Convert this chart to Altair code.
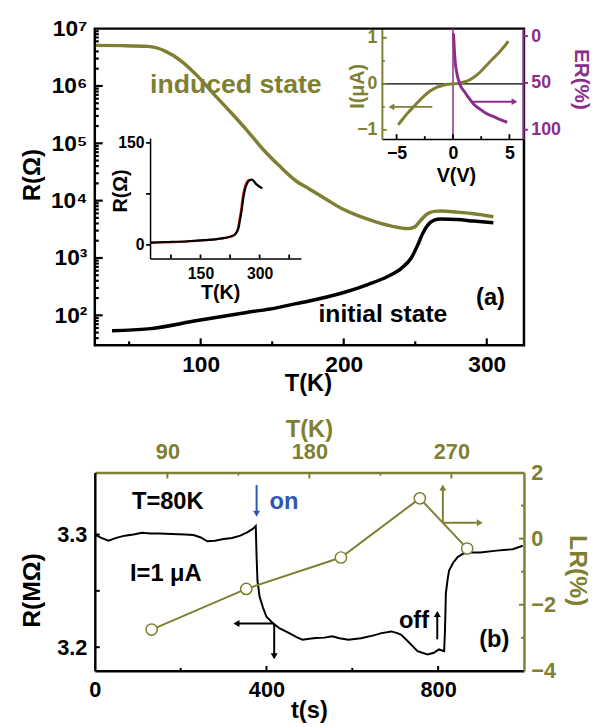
import math
import altair as alt
import pandas as pd

OLIVE = "#7f7f33"
PURPLE = "#8c2d8c"
BLUE = "#2f56b4"
RED = "#e3262b"
FONT = "Liberation Sans"
W, H = 435, 651

# ---------------- (a) main panel: R(T) ----------------
T_IND = [26.7, 45, 63.2, 74.8, 86.2, 97.7, 109.2, 120.7, 132.2, 143.7, 155.2, 166.7, 175.9,
         187.4, 198.9, 210.4, 221.9, 233.4, 244.8, 249.4, 254.0, 258.6, 263.2, 267.8, 279.3,
         290.8, 304.6]
R_IND = [5.1e6, 5.05e6, 4.9e6, 4.1e6, 2.75e6, 1.5e6, 7.2e5, 3.55e5, 1.7e5, 7.8e4, 4.0e4, 2.2e4,
         1.6e4, 1.07e4, 7.2e3, 5.4e3, 4.3e3, 3.6e3, 3.25e3, 3.45e3, 4.6e3, 5.9e3, 6.5e3, 6.6e3,
         6.3e3, 5.9e3, 5.25e3]
T_INI = [38, 63.2, 97.7, 132.2, 152.9, 166.7, 175.9, 198.9, 217.3, 231.1, 240.3, 247.2, 251.8,
         255.3, 258.6, 263.2, 267.8, 279.3, 290.8, 304.6]
R_INI = [54, 58, 81, 112, 135, 160, 178, 245, 347, 480, 660, 1000, 1700, 2700, 3700, 4570, 4800,
         4700, 4400, 4100]

# inset 1: linear R(T)
T_IN1_BLACK = [22, 60, 117, 160, 200, 234, 246, 250, 255, 259, 263, 268, 272, 280, 292, 307]
R_IN1_BLACK = [3.4, 4.2, 5.4, 7, 9.2, 14, 24, 36, 53, 70, 82, 90, 94, 96, 89, 83]
T_IN1_RED = [22, 60, 117, 160, 200, 232, 244, 248, 253, 257, 262, 268, 275]
R_IN1_RED = [3.0, 3.8, 5.0, 6.8, 9.0, 13, 22, 34, 52, 70, 84, 93, 96]

# inset 2: I-V and ER
V_IV = [-4.85, -4.5, -4, -3.5, -3, -2.5, -2, -1.5, -1, -0.5, 0, 0.5, 1, 1.5, 2, 2.5, 3, 3.5, 4, 4.5, 4.9]
I_IV = [-0.89, -0.78, -0.63, -0.5, -0.37, -0.25, -0.15, -0.08, -0.04, -0.01, 0, 0.01, 0.04, 0.09,
        0.17, 0.28, 0.41, 0.54, 0.66, 0.8, 0.93]
V_ER = [0.03, 0.06, 0.1, 0.14, 0.2, 0.29, 0.4, 0.57, 0.75, 1.0, 1.4, 1.86, 2.4, 3.0, 3.6, 4.14, 4.8]
ER = [-3, 1, 10, 19, 28, 36, 43, 50, 55, 59, 66, 73, 78, 83, 86, 89, 92]

# ---------------- (b) panel ----------------
T_S = [0, 15, 32, 50, 70, 90, 110, 130, 150, 180, 210, 230, 247, 262, 280, 300, 320, 339, 355,
       368, 375, 377, 379, 384, 392, 400, 415, 430, 453, 470, 484, 500, 515, 535, 553, 570, 591,
       620, 650, 668, 691, 705, 714, 730, 752, 775, 790, 802, 814, 816, 818, 822, 825.5, 835, 845,
       858, 868, 898, 936, 960, 974, 997]
R_MOHM = [3.300, 3.297, 3.2945, 3.297, 3.299, 3.300, 3.3015, 3.301, 3.301, 3.3005, 3.300, 3.2995,
          3.2974, 3.294, 3.2945, 3.296, 3.297, 3.299, 3.302, 3.305, 3.3075, 3.28, 3.259, 3.2447,
          3.235, 3.227, 3.2213, 3.217, 3.2125, 3.209, 3.2067, 3.2075, 3.2082, 3.2085, 3.2096,
          3.208, 3.2067, 3.208, 3.2105, 3.2125, 3.214, 3.2125, 3.211, 3.205, 3.1965, 3.1936,
          3.195, 3.198, 3.1965, 3.215, 3.2476, 3.26, 3.268, 3.275, 3.2798, 3.283, 3.284, 3.284,
          3.2857, 3.2865, 3.287, 3.290]
T_LR = [80, 140, 200, 250, 280]
LR = [-2.75, -1.52, -0.57, 1.22, -0.3]

# tick positions
YTICKS_A = [m * 10 ** e for e in range(1, 7) for m in range(1, 10) if m * 10 ** e >= 40]
XTICKS_A = [50, 100, 150, 200, 250, 300]
XTICKS_1 = [75, 150, 225, 300, 375]
YTICKS_1 = [0, 75, 150]
XTICKS_2 = [-5, -2.5, 0, 2.5, 5]
YTICKS_2 = [-1, -0.5, 0, 0.5, 1]
ERTICKS = [0, 50, 100]
TTICKS_B = [200, 400, 600, 800]
RTICKS_B = [3.2, 3.25, 3.3]
TKTICKS_B = [90, 135, 180, 225, 270]
LRTICKS_B = [-3, -2, -1, 0, 1]


class S:
    """scale definition: data domain -> pixel range (plot coordinates)"""

    def __init__(self, domain, rng, log=False):
        self.domain, self.rng, self.log = domain, rng, log

    def alt(self):
        kw = dict(domain=self.domain, range=self.rng, nice=False, zero=False)
        if self.log:
            kw["type"] = "log"
        return alt.Scale(**kw)

    def _f(self, v):
        return math.log10(v) if self.log else v

    def px(self, v):
        d0, d1 = self._f(self.domain[0]), self._f(self.domain[1])
        return self.rng[0] + (self._f(v) - d0) / (d1 - d0) * (self.rng[1] - self.rng[0])

    def val(self, p):
        d0, d1 = self._f(self.domain[0]), self._f(self.domain[1])
        x = d0 + (p - self.rng[0]) / (self.rng[1] - self.rng[0]) * (d1 - d0)
        return 10 ** x if self.log else x


S_TA = S([26, 326], [0, W])
S_RA = S([30, 1e7], [321, 0], log=True)
S_T1 = S([22, 405], [56, 209])
S_R1 = S([-20, 157], [233, 111])
S_V = S([-6.3, 6.2], [291, 434])
S_I = S([-1.2, 1.2], [112, 0])
S_ER = S([-8, 110], [0, 112])
S_t = S([0, 1000], [0, W])
S_RB = S([3.179, 3.355], [H, 450])
S_TB = S([44, 316], [0, W])
S_LR = S([-4, 2], [H, 450])


def lab_axis(orient, offset, values, size, pad, color="black", title=None, tsize=24, tx=0, ty=0,
             domain=False, dwidth=2.5, label_expr=None, zindex=0, fmt=None):
    kw = dict(orient=orient, offset=offset, values=values, labelFont=FONT, labelFontWeight="bold",
              labelFontSize=size, labelPadding=pad, labelColor=color, labelFlush=False,
              labelOverlap=False, grid=False, ticks=False, domain=domain, zindex=zindex)
    if domain:
        kw.update(domainColor=color, domainWidth=dwidth)
    if title:
        kw.update(title=title, titleFont=FONT, titleFontWeight="bold", titleFontSize=tsize,
                  titleColor=color, titleX=tx, titleY=ty, titleBaseline="middle", titleAlign="center")
    else:
        kw["title"] = None
    if label_expr:
        kw["labelExpr"] = label_expr
    if fmt:
        kw["format"] = fmt
    return alt.Axis(**kw)


def df(**cols):
    return pd.DataFrame(cols)


def tick_marks(values, along, across, base, length_px, is_major=None, minor_px=None, vertical=True,
               color="black", width=2):
    """tick marks drawn as rules at the tick values, starting on the frame line (`base`)"""
    a, b, b2 = [], [], []
    for v in values:
        L = length_px if (is_major is None or is_major(v)) else minor_px
        a.append(float(v))
        b.append(float(base))
        b2.append(float(across.val(across.px(base) + L)))
    d = df(a=a, b=b, b2=b2)
    m = alt.Chart(d).mark_rule(color=color, strokeWidth=width, opacity=1)
    if vertical:
        return m.encode(x=alt.X("a:Q", scale=along.alt(), axis=None),
                        y=alt.Y("b:Q", scale=across.alt(), axis=None), y2=alt.Y2("b2"))
    return m.encode(y=alt.Y("a:Q", scale=along.alt(), axis=None),
                    x=alt.X("b:Q", scale=across.alt(), axis=None), x2=alt.X2("b2"))


def text_layer(x, y, txt, xs, ys, color="black", size=24, align="center"):
    return alt.Chart(df(x=[x], y=[y], t=[txt])).mark_text(
        font=FONT, fontWeight="bold", fontSize=size, color=color, align=align, baseline="middle"
    ).encode(x=alt.X("x:Q", scale=xs.alt(), axis=None), y=alt.Y("y:Q", scale=ys.alt(), axis=None),
             text="t:N")


def hrule(x, x2, y, xs, ys, color, width=2):
    return alt.Chart(df(x=[x], x2=[x2], y=[y])).mark_rule(color=color, strokeWidth=width).encode(
        x=alt.X("x:Q", scale=xs.alt(), axis=None), x2="x2", y=alt.Y("y:Q", scale=ys.alt(), axis=None))


def vrule(x, y, y2, xs, ys, color, width=2):
    return alt.Chart(df(x=[x], y=[y], y2=[y2])).mark_rule(color=color, strokeWidth=width).encode(
        x=alt.X("x:Q", scale=xs.alt(), axis=None), y=alt.Y("y:Q", scale=ys.alt(), axis=None), y2="y2")


def head(x, y, shape, xs, ys, color, size=55):
    return alt.Chart(df(x=[x], y=[y])).mark_point(shape=shape, filled=True, color=color, size=size,
                                                 opacity=1).encode(
        x=alt.X("x:Q", scale=xs.alt(), axis=None), y=alt.Y("y:Q", scale=ys.alt(), axis=None))


def is_decade(v):
    return abs(math.log10(v) - round(math.log10(v))) < 1e-6


layers = []

# ---- panel (a) frame, labels, ticks
YMAJ = [1e2, 1e3, 1e4, 1e5, 1e6, 1e7]
SUP = "['⁰','¹','²','³','⁴','⁵','⁶','⁷']"
layers.append(
    alt.Chart(df(x=[26], x2=[326], y=[30], y2=[1e7])).mark_rect(
        fill="transparent", stroke="black", strokeWidth=2.5).encode(
        x=alt.X("x:Q", scale=S_TA.alt(), axis=lab_axis("bottom", -(H - 321), [100, 200, 300], 23, 9,
                                                        title="T(K)", tsize=24, tx=216, ty=39)),
        x2="x2",
        y=alt.Y("y:Q", scale=S_RA.alt(), axis=lab_axis(
            "left", 0, YMAJ, 23, 8, title="R(Ω)", tsize=24, tx=-63, ty=148,
            label_expr="'10' + " + SUP + "[round(log(datum.value)/LN10)]")),
        y2="y2")
)
layers.append(tick_marks(YTICKS_A, S_RA, S_TA, 26, 8, is_decade, 4, vertical=False, width=2.2))
layers.append(tick_marks(XTICKS_A, S_TA, S_RA, 30, -7, lambda v: v % 100 == 0, -4, vertical=True, width=2.2))
layers.append(
    alt.Chart(df(T=T_INI, R=R_INI)).mark_line(color="black", strokeWidth=3.5, interpolate="monotone").encode(
        x=alt.X("T:Q", scale=S_TA.alt(), axis=None), y=alt.Y("R:Q", scale=S_RA.alt(), axis=None))
)
layers.append(
    alt.Chart(df(T=T_IND, R=R_IND)).mark_line(color=OLIVE, strokeWidth=3.5, interpolate="monotone").encode(
        x=alt.X("T:Q", scale=S_TA.alt(), axis=None), y=alt.Y("R:Q", scale=S_RA.alt(), axis=None))
)
layers.append(text_layer(124.6, 1.05e6, "induced state", S_TA, S_RA, OLIVE, 27))
layers.append(text_layer(227.4, 107, "initial state", S_TA, S_RA, "black", 25))
layers.append(text_layer(302.6, 200, "(a)", S_TA, S_RA, "black", 24))

# ---- inset 1
layers.append(
    alt.Chart(df(T=T_IN1_RED, R=R_IN1_RED)).mark_line(color=RED, strokeWidth=2.2, interpolate="monotone").encode(
        x=alt.X("T:Q", scale=S_T1.alt(), axis=None), y=alt.Y("R:Q", scale=S_R1.alt(), axis=None))
)
layers.append(
    alt.Chart(df(T=T_IN1_BLACK, R=R_IN1_BLACK)).mark_line(color="black", strokeWidth=2.2, interpolate="monotone").encode(
        x=alt.X("T:Q", scale=S_T1.alt(), axis=lab_axis("bottom", -(H - 233), [150, 300], 16, 7, title="T(K)",
                                                        tsize=20, tx=127, ty=35, domain=True, dwidth=1.5)),
        y=alt.Y("R:Q", scale=S_R1.alt(), axis=lab_axis("left", -56, [0, 150], 16, 6, title="R(Ω)", tsize=20,
                                                        tx=-30, ty=164, domain=True, dwidth=1.5)))
)
layers.append(tick_marks(XTICKS_1, S_T1, S_R1, -20, -4, vertical=True, width=1.8))
layers.append(tick_marks(YTICKS_1, S_R1, S_T1, 22, -4, vertical=False, width=1.8))

# ---- inset 2
layers.append(hrule(-6.3, 6.2, 0, S_V, S_I, "black", 1.5))
layers.append(vrule(0, -1.2, 1.2, S_V, S_I, PURPLE, 1.5))
layers.append(
    alt.Chart(df(V=V_IV, I=I_IV)).mark_line(color=OLIVE, strokeWidth=3, interpolate="monotone").encode(
        x=alt.X("V:Q", scale=S_V.alt(), axis=lab_axis("bottom", -(H - 112), [-5, 0, 5], 18, 6, title="V(V)",
                                                       tsize=20, tx=366, ty=37, domain=True, dwidth=1.5)),
        y=alt.Y("I:Q", scale=S_I.alt(), axis=lab_axis("left", -291, [-1, 0, 1], 18, 5, color=OLIVE,
                                                       title="I(μA)", tsize=20, tx=-25, ty=58, domain=True,
                                                       dwidth=2)))
)
layers.append(
    alt.Chart(df(V=V_ER, E=ER)).mark_line(color=PURPLE, strokeWidth=3, interpolate="monotone").encode(
        x=alt.X("V:Q", scale=S_V.alt(), axis=None),
        y=alt.Y("E:Q", scale=S_ER.alt(), axis=lab_axis("right", -1, [0, 50, 100], 18, 8, color=PURPLE,
                                                        title="ER(%)", tsize=21, tx=58, ty=51, domain=True,
                                                        dwidth=2, zindex=1)))
)
layers.append(tick_marks(XTICKS_2, S_V, S_I, -1.2, -5, lambda v: v % 5 == 0, -3, vertical=True, width=1.8))
layers.append(tick_marks(YTICKS_2, S_I, S_V, -6.3, 5, lambda v: v % 1 == 0, 3, vertical=False, color=OLIVE,
                         width=1.8))
layers.append(tick_marks(ERTICKS, S_ER, S_V, 6.2, 5, vertical=False, color=PURPLE, width=2))
layers.append(hrule(-1.83, -5.3, -0.5, S_V, S_I, OLIVE, 2))
layers.append(head(-5.45, -0.5, "triangle-left", S_V, S_I, OLIVE, 45))
layers.append(hrule(1.74, 5.3, 70, S_V, S_ER, PURPLE, 2))
layers.append(head(5.45, 70, "triangle-right", S_V, S_ER, PURPLE, 45))

# ---- panel (b)
layers.append(
    alt.Chart(df(t=T_S, R=R_MOHM)).mark_line(color="black", strokeWidth=2).encode(
        x=alt.X("t:Q", scale=S_t.alt(), axis=lab_axis("bottom", 0, [0, 400, 800], 22, 9, title="t(s)",
                                                       tsize=24, tx=217, ty=40, domain=True, dwidth=2.5)),
        y=alt.Y("R:Q", scale=S_RB.alt(), axis=lab_axis("left", 0, [3.2, 3.3], 22, 8, title="R(MΩ)",
                                                        tsize=25, tx=-64, ty=569, domain=True, dwidth=2.5,
                                                        fmt=".1f")))
)
layers.append(
    alt.Chart(df(T=T_LR, L=LR)).mark_line(color=OLIVE, strokeWidth=2).encode(
        x=alt.X("T:Q", scale=S_TB.alt(), axis=lab_axis("top", -450, [90, 180, 270], 22, 9, color=OLIVE,
                                                        title="T(K)", tsize=24, tx=217, ty=-44, domain=True,
                                                        dwidth=2.5)),
        y=alt.Y("L:Q", scale=S_LR.alt(), axis=lab_axis("right", 0, [-4, -2, 0, 2], 22, 7, color=OLIVE,
                                                        title="LR(%)", tsize=25, tx=54, ty=549, domain=True,
                                                        dwidth=2.5)))
)
layers.append(
    alt.Chart(df(T=T_LR, L=LR)).mark_point(shape="circle", filled=True, fill="white", stroke=OLIVE,
                                          strokeWidth=1.5, size=130, opacity=1).encode(
        x=alt.X("T:Q", scale=S_TB.alt(), axis=None), y=alt.Y("L:Q", scale=S_LR.alt(), axis=None))
)
layers.append(tick_marks(TTICKS_B, S_t, S_RB, 3.179, -5, lambda v: v % 400 == 0, -3, vertical=True))
layers.append(tick_marks(RTICKS_B, S_RB, S_t, 0, 5, vertical=False))
layers.append(tick_marks(TKTICKS_B, S_TB, S_LR, 2, 6, lambda v: v % 90 == 0, 3, vertical=True, color=OLIVE))
layers.append(tick_marks(LRTICKS_B, S_LR, S_TB, 316, -5, lambda v: v % 2 == 0, -3, vertical=False, color=OLIVE))

layers.append(text_layer(170, 3.329, "T=80K", S_t, S_RB, "black", 24))
layers.append(text_layer(165.5, 3.265, "I=1 μA", S_t, S_RB, "black", 24))
layers.append(text_layer(407, 3.329, "on", S_t, S_RB, BLUE, 24, align="left"))
layers.append(text_layer(779, 3.2228, "off", S_t, S_RB, "black", 24, align="right"))
layers.append(text_layer(931, 3.206, "(b)", S_t, S_RB, "black", 24))

# arrows in panel (b)
layers.append(vrule(377, 3.344, 3.3195, S_t, S_RB, BLUE, 2))
layers.append(head(377, 3.3185, "triangle-down", S_t, S_RB, BLUE, 50))
layers.append(vrule(798, 3.207, 3.228, S_t, S_RB, "black", 2))
layers.append(head(798, 3.2295, "triangle-up", S_t, S_RB, "black", 50))
layers.append(hrule(418, 335, 3.221, S_t, S_RB, "black", 2))
layers.append(head(330, 3.221, "triangle-left", S_t, S_RB, "black", 50))
layers.append(vrule(418, 3.221, 3.194, S_t, S_RB, "black", 2))
layers.append(head(418, 3.192, "triangle-down", S_t, S_RB, "black", 50))
layers.append(vrule(264.6, 0.48, 1.5, S_TB, S_LR, OLIVE, 2))
layers.append(head(264.6, 1.55, "triangle-up", S_TB, S_LR, OLIVE, 50))
layers.append(hrule(264.6, 286, 0.48, S_TB, S_LR, OLIVE, 2))
layers.append(head(288, 0.48, "triangle-right", S_TB, S_LR, OLIVE, 50))

chart = alt.layer(*layers).resolve_scale(x="independent", y="independent").properties(
    width=W, height=H,
    autosize=alt.AutoSizeParams(type="none"),
    padding={"left": 88, "top": 16, "right": 71, "bottom": 51},
).configure_view(strokeWidth=0)

chart.save("out.html", embed_options={"renderer": "svg", "actions": False})
